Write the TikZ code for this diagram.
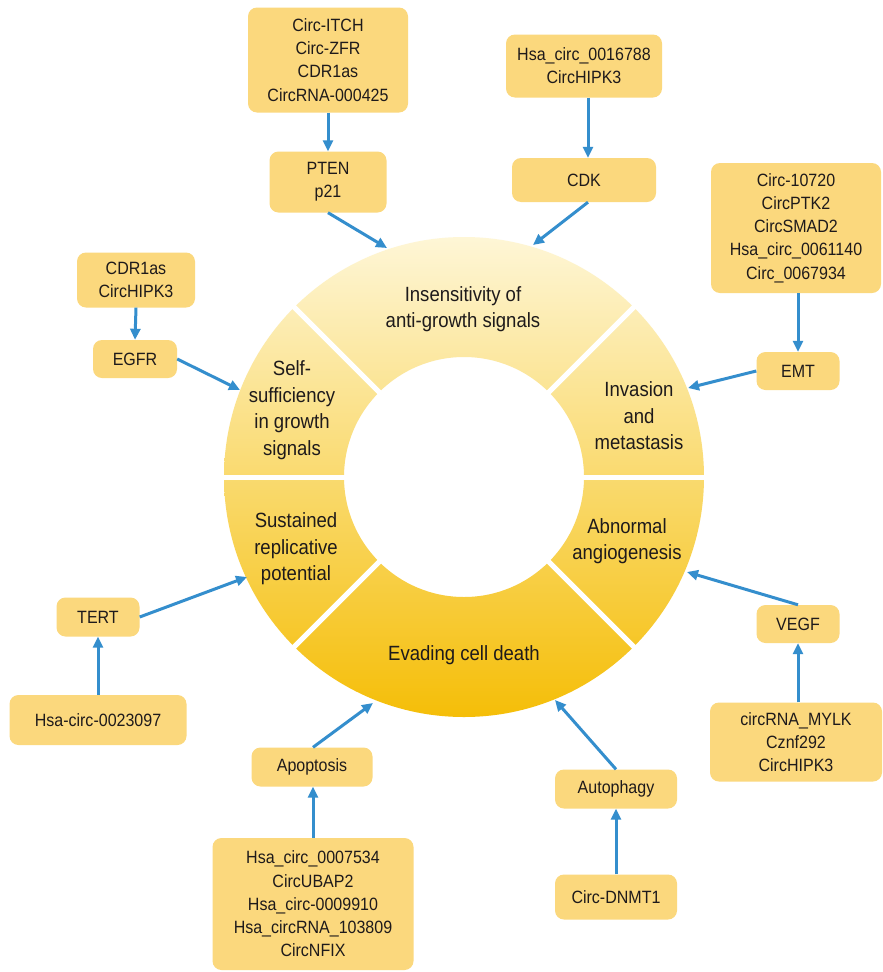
\documentclass[tikz,border=0pt]{standalone}
\usepackage{fontspec}
\setmainfont[FakeStretch=0.9]{Liberation Sans}
\usetikzlibrary{arrows.meta}
\definecolor{boxc}{RGB}{251,216,125}
\definecolor{arrc}{RGB}{52,142,205}
\definecolor{txtc}{RGB}{30,26,27}
\definecolor{ringtop}{RGB}{254,246,214}
\definecolor{ringmid}{RGB}{250,219,100}
\definecolor{ringbot}{RGB}{245,190,8}
\begin{document}
\begin{tikzpicture}[x=1pt,y=-1pt,
  box/.style={fill=boxc, rounded corners=9pt, align=center, inner sep=0pt, text=txtc,
    font=\fontsize{17.8}{23.2}\selectfont},
  ringtxt/.style={align=center, inner sep=0pt, text=txtc, font=\fontsize{20.6}{26.5}\selectfont},
  arr/.style={draw=arrc, line width=3pt, -{Triangle[length=11pt,width=10pt]}},
  divider/.style={draw=white, line width=5pt}]
\fill[white] (0,0) rectangle (883,972);
\useasboundingbox (0,0) rectangle (883,972);

% ring
\coordinate (C) at (464,477);
\shade[top color=ringtop, middle color=ringmid, bottom color=ringbot, even odd rule]
  (C) circle (240pt) (C) circle (120pt);
\foreach \a in {0,45,135,180,225,315}
  \draw[divider, shift={(C)}] (\a:116pt) -- (\a:244pt);

% ring labels
\node[ringtxt] (ins) at (463,309) {Insensitivity of\\anti-growth signals};
\node[ringtxt] (self) at (292,410) {Self-\\sufficiency\\in growth\\signals};
\node[ringtxt] (inv) at (639,416) {Invasion\\and\\metastasis};
\node[ringtxt] (abn) at (627,541) {Abnormal\\angiogenesis};
\node[ringtxt] (sus) at (296,549) {Sustained\\replicative\\potential};
\node[ringtxt] (eva) at (464,655) {Evading cell death};

% boxes
\node[box, minimum width=160pt, minimum height=105pt] (s1) at (328,60) {Circ-ITCH\\Circ-ZFR\\CDR1as\\CircRNA-000425};
\node[box, minimum width=117pt, minimum height=61pt] (pten) at (328,182) {PTEN\\p21};
\node[box, minimum width=156pt, minimum height=63pt] (s2) at (584,66) {Hsa\_circ\_0016788\\CircHIPK3};
\node[box, minimum width=144pt, minimum height=44pt] (cdk) at (584,180) {CDK};
\node[box, minimum width=118pt, minimum height=55pt] (s3) at (136,280) {CDR1as\\CircHIPK3};
\node[box, minimum width=84pt, minimum height=38pt] (egfr) at (135,359) {EGFR};
\node[box, minimum width=83pt, minimum height=39pt] (tert) at (98,617) {TERT};
\node[box, minimum width=177pt, minimum height=50pt] (s4) at (98,720) {Hsa-circ-0023097};
\node[box, minimum width=170pt, minimum height=130pt] (s5) at (796,228) {Circ-10720\\CircPTK2\\CircSMAD2\\Hsa\_circ\_0061140\\Circ\_0067934};
\node[box, minimum width=83pt, minimum height=38pt] (emt) at (798,371) {EMT};
\node[box, minimum width=83pt, minimum height=38pt] (vegf) at (798,624) {VEGF};
\node[box, minimum width=172pt, minimum height=79pt] (s6) at (796,742) {circRNA\_MYLK\\Cznf292\\CircHIPK3};
\node[box, minimum width=121pt, minimum height=39pt] (apop) at (312,767) {Apoptosis};
\node[box, minimum width=201pt, minimum height=132pt] (s7) at (313,904) {Hsa\_circ\_0007534\\CircUBAP2\\Hsa\_circ-0009910\\Hsa\_circRNA\_103809\\CircNFIX};
\node[box, minimum width=122pt, minimum height=39pt] (auto) at (616,789) {Autophagy};
\node[box, minimum width=122pt, minimum height=45pt] (dnmt) at (616,897) {Circ-DNMT1};

% arrow tips on the ring
\coordinate (tpten) at (387,248);
\coordinate (tcdk) at (533,245);
\coordinate (tegfr) at (240,390);
\coordinate (ttert) at (247,577);
\coordinate (temt) at (688,388);
\coordinate (tvegf) at (687,572);
\coordinate (tapop) at (373,703);
\coordinate (tauto) at (555,700);

% connectors
\draw[arr] (s1.south) -- (pten.north);
\draw[arr] (pten.south) -- (tpten);
\draw[arr] ([xshift=4pt]s2.south) -- ([xshift=4pt]cdk.north);
\draw[arr] ([xshift=4pt]cdk.south) -- (tcdk);
\draw[arr] (s3.south) -- (egfr.north);
\draw[arr] (egfr.east) -- (tegfr);
\draw[arr] (s4.north) -- (tert.south);
\draw[arr] (tert.east) -- (ttert);
\draw[arr] ([xshift=2pt]s5.south) -- (emt.north);
\draw[arr] (emt.west) -- (temt);
\draw[arr] ([xshift=2pt]s6.north) -- (vegf.south);
\draw[arr] (vegf.north) -- (tvegf);
\draw[arr] (s7.north) -- ([xshift=1pt]apop.south);
\draw[arr] ([xshift=1pt]apop.north) -- (tapop);
\draw[arr] (dnmt.north) -- (auto.south);
\draw[arr] (auto.north) -- (tauto);
\end{tikzpicture}
\end{document}
